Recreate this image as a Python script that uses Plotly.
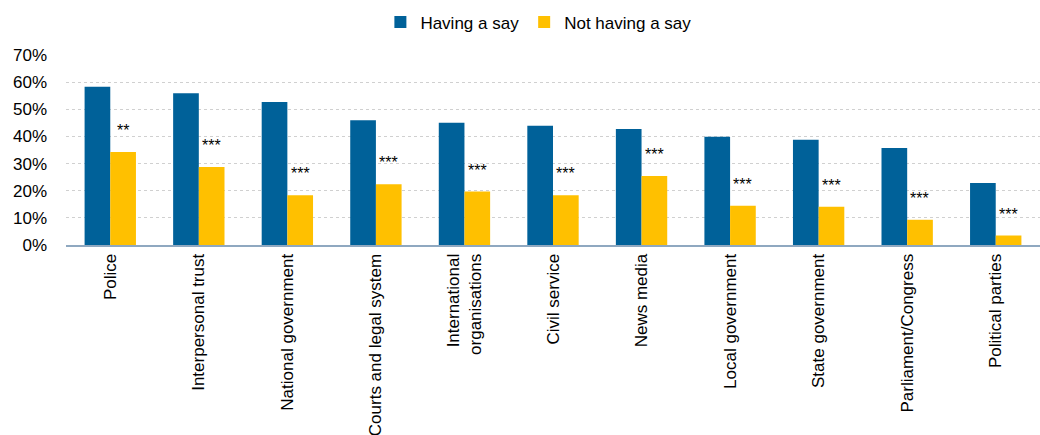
import plotly.graph_objects as go

categories = [
    "Police", "Interpersonal trust", "National government",
    "Courts and legal system", "International<br>organisations",
    "Civil service", "News media", "Local government",
    "State government", "Parliament/Congress", "Political parties",
]
having_say = [58.3, 55.9, 52.7, 46.0, 45.0, 43.9, 42.7, 39.9, 38.8, 35.7, 22.8]
not_having_say = [34.3, 28.7, 18.3, 22.4, 19.7, 18.3, 25.4, 14.5, 14.1, 9.3, 3.5]
significance = ["**", "***", "***", "***", "***", "***", "***", "***", "***", "***", "***"]
tick_vals = [0, 10, 20, 30, 40, 50, 60, 70]
tick_text = ["0%", "10%", "20%", "30%", "40%", "50%", "60%", "70%"]

BLUE = "#006199"
YELLOW = "#FFC000"
FONT = "Liberation Sans, Arial, sans-serif"

fig = go.Figure()
fig.add_trace(go.Bar(x=categories, y=having_say, name="Having a say",
                     marker=dict(color=BLUE, line=dict(width=0))))
fig.add_trace(go.Bar(x=categories, y=not_having_say, name="Not having a say",
                     marker=dict(color=YELLOW, line=dict(width=0))))

# Significance stars above the "Not having a say" bars
for cat, val, stars in zip(categories, not_having_say, significance):
    fig.add_annotation(
        x=cat, y=val, text=stars, showarrow=False,
        xref="x", yref="y", xanchor="center", yanchor="bottom",
        xshift=12.8, yshift=11,
        font=dict(family=FONT, size=16, color="#000000"),
    )

fig.update_layout(
    width=1040, height=435,
    margin=dict(l=66, r=0, t=55, b=190, pad=0, autoexpand=False),
    paper_bgcolor="white", plot_bgcolor="white",
    barmode="group", bargap=0.42, bargroupgap=0,
    font=dict(family=FONT, size=17, color="#000000"),
    showlegend=True,
    legend=dict(orientation="h", x=0.485, xanchor="center", y=0.99, yanchor="top",
                yref="container", font=dict(family=FONT, size=17, color="#000000"),
                itemwidth=30, tracegroupgap=0, bgcolor="rgba(0,0,0,0)"),
)

fig.update_yaxes(
    range=[0, 70], tickvals=tick_vals, ticktext=tick_text, automargin=False,
    showgrid=True, gridcolor="#d0d0d0", griddash="dot", gridwidth=1,
    zeroline=False, showline=False, ticks="", ticklabelstandoff=18,
    tickfont=dict(family=FONT, size=17, color="#000000"),
)
fig.update_xaxes(
    tickangle=-90, showline=True, linecolor="#8FA8C0", linewidth=2,
    showgrid=False, ticks="", ticklabelstandoff=0, automargin=False,
    tickfont=dict(family=FONT, size=17, color="#000000"),
)

fig.write_html("out.html")
